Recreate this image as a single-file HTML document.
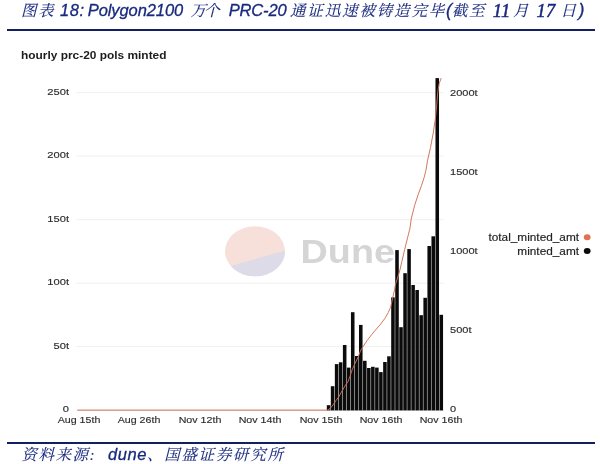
<!DOCTYPE html>
<html lang="zh"><head><meta charset="utf-8"><title>chart</title>
<style>
html,body{margin:0;padding:0;background:#fff;}
#p{position:relative;width:600px;height:464px;overflow:hidden;background:#fff;font-family:"Liberation Sans","Noto Sans CJK SC",sans-serif;}
#p div{position:absolute;white-space:nowrap;line-height:1;}
.t,.s{color:#18297e;font-style:italic;-webkit-text-stroke:0.3px #18297e;}
.t{top:3px;}
.t.l{top:2.3px;}
.t.n{top:1.8px;}
.s{top:446.5px;}
.k{font-family:"Liberation Serif","Noto Serif CJK SC",serif;font-size:15.5px;letter-spacing:1.5px;font-weight:400;-webkit-text-stroke:0.1px #18297e;}
.l{font-size:16.5px;}
.n{font-family:"Liberation Serif",serif;font-size:18.5px;font-weight:400;-webkit-text-stroke:0.5px #18297e;letter-spacing:0.3px;}
.rule{background:#131f63;height:2.3px;left:7px;width:587.8px;}
.ax{font-size:9.6px;color:#2e2e2e;-webkit-text-stroke:0.15px #2e2e2e;}
.yl{width:40px;text-align:right;left:29.2px;transform:scaleX(1.16);transform-origin:100% 50%;}
.yr{left:450px;transform:scaleX(1.15);transform-origin:0 50%;}
.xl{width:60px;text-align:center;top:415px;transform:scaleX(1.11);transform-origin:50% 50%;}
.lg{font-size:10px;color:#222;-webkit-text-stroke:0.15px #222;text-align:right;width:100px;left:479px;transform:scaleX(1.18);transform-origin:100% 50%;}
svg{position:absolute;left:0;top:0;}
</style></head><body><div id="p">
<svg width="600" height="464" viewBox="0 0 600 464">
<line x1="76" x2="443.5" y1="92.7" y2="92.7" stroke="#f0f0f0" stroke-width="1"/>
<line x1="76" x2="443.5" y1="156.1" y2="156.1" stroke="#f0f0f0" stroke-width="1"/>
<line x1="76" x2="443.5" y1="219.7" y2="219.7" stroke="#f0f0f0" stroke-width="1"/>
<line x1="76" x2="443.5" y1="283.2" y2="283.2" stroke="#f0f0f0" stroke-width="1"/>
<line x1="76" x2="443.5" y1="346.6" y2="346.6" stroke="#f0f0f0" stroke-width="1"/>
<line x1="77" x2="443.5" y1="410.4" y2="410.4" stroke="#dddddd" stroke-width="1"/>
<g><clipPath id="wm"><ellipse cx="255" cy="251.3" rx="30" ry="25"/></clipPath><ellipse cx="255" cy="251.3" rx="30" ry="25" fill="#f7e0d9"/><polygon points="220,269 290,249 290,290 220,290" fill="#dddbe7" clip-path="url(#wm)"/></g>
<g transform="translate(300.6,263.1) scale(1.13,1)"><text x="0" y="0" font-family="Liberation Sans, sans-serif" font-size="33.4" font-weight="bold" fill="#d5d5d5">Dune</text></g>
<rect x="326.80" y="405.2" width="3.55" height="5.2" fill="#0b0b0b"/>
<rect x="330.82" y="386.2" width="3.55" height="24.2" fill="#0b0b0b"/>
<rect x="334.85" y="364.1" width="3.55" height="46.3" fill="#0b0b0b"/>
<rect x="338.88" y="362.3" width="3.55" height="48.1" fill="#0b0b0b"/>
<rect x="342.90" y="345.0" width="3.55" height="65.4" fill="#0b0b0b"/>
<rect x="346.93" y="367.6" width="3.55" height="42.8" fill="#0b0b0b"/>
<rect x="350.95" y="312.2" width="3.55" height="98.2" fill="#0b0b0b"/>
<rect x="354.98" y="356.0" width="3.55" height="54.4" fill="#0b0b0b"/>
<rect x="359.00" y="324.9" width="3.55" height="85.5" fill="#0b0b0b"/>
<rect x="363.03" y="360.8" width="3.55" height="49.6" fill="#0b0b0b"/>
<rect x="367.05" y="368.0" width="3.55" height="42.4" fill="#0b0b0b"/>
<rect x="371.08" y="366.8" width="3.55" height="43.6" fill="#0b0b0b"/>
<rect x="375.10" y="367.6" width="3.55" height="42.8" fill="#0b0b0b"/>
<rect x="379.12" y="372.1" width="3.55" height="38.3" fill="#0b0b0b"/>
<rect x="383.15" y="362.0" width="3.55" height="48.4" fill="#0b0b0b"/>
<rect x="387.18" y="356.3" width="3.55" height="54.1" fill="#0b0b0b"/>
<rect x="391.20" y="297.4" width="3.55" height="113.0" fill="#0b0b0b"/>
<rect x="395.23" y="250.1" width="3.55" height="160.3" fill="#0b0b0b"/>
<rect x="399.25" y="327.2" width="3.55" height="83.2" fill="#0b0b0b"/>
<rect x="403.28" y="273.2" width="3.55" height="137.2" fill="#0b0b0b"/>
<rect x="407.30" y="249.1" width="3.55" height="161.3" fill="#0b0b0b"/>
<rect x="411.33" y="285.0" width="3.55" height="125.4" fill="#0b0b0b"/>
<rect x="415.35" y="290.0" width="3.55" height="120.4" fill="#0b0b0b"/>
<rect x="419.38" y="315.2" width="3.55" height="95.2" fill="#0b0b0b"/>
<rect x="423.40" y="297.8" width="3.55" height="112.6" fill="#0b0b0b"/>
<rect x="427.43" y="246.0" width="3.55" height="164.4" fill="#0b0b0b"/>
<rect x="431.45" y="236.3" width="3.55" height="174.1" fill="#0b0b0b"/>
<rect x="435.48" y="78.1" width="3.55" height="332.3" fill="#0b0b0b"/>
<rect x="439.50" y="314.8" width="3.55" height="95.6" fill="#0b0b0b"/>
<polyline points="77.3,410.1 327.5,410.1 330,408.5 333,405 336,400.5 339,396.5 342,391 345,386 348,381.5 350,376.3 352.1,369.9 355.2,363.1 358.2,357 360.4,351 362.7,347.2 367.2,340.4 371.8,334.4 376.3,329.1 380.8,323.9 385.3,317.8 388.3,312.5 390.6,307.3 392.7,298 394.5,290 395.4,284.7 399.4,272.1 401.9,261.4 404.7,249.4 407.5,238 410,228 411.2,219 414.7,205.2 418.1,194.8 421.6,185.3 424.1,177.6 425.9,170.7 427.6,160.2 430.5,147.6 433.4,132 435.4,118.5 436.7,104.9 437.9,91.3 439.2,83.6 441.2,78.1" fill="none" stroke="#cf7154" stroke-width="0.95" stroke-linejoin="round"/>
<ellipse cx="587.2" cy="237.2" rx="3.4" ry="3" fill="#e0724f"/>
<ellipse cx="587.2" cy="251" rx="3.4" ry="3" fill="#0b0b0b"/>
</svg>
<div class="t k" id="t1" style="left:21px">图表</div>
<div class="t l" id="t2" style="left:60px;letter-spacing:0.6px">18:</div>
<div class="t l" id="t3" style="left:87.8px;letter-spacing:-0.1px">Polygon2100</div>
<div class="t k" id="t4" style="left:190.5px;letter-spacing:-2px">万个</div>
<div class="t l" id="t5" style="left:228.7px;letter-spacing:-0.15px">PRC-20</div>
<div class="t k" id="t6" style="left:290px;letter-spacing:1.85px">通证迅速被铸造完毕</div>
<div class="t l" id="t7a" style="left:446px;font-size:18px;top:1px;">(</div>
<div class="t k" id="t7" style="left:452px">截至</div>
<div class="t n" id="t8" style="left:492.8px">11</div>
<div class="t k" id="t9" style="left:513px">月</div>
<div class="t n" id="t10" style="left:536.5px">17</div>
<div class="t k" id="t11" style="left:560.5px">日</div>
<div class="t l" id="t11a" style="left:578.5px;font-size:18px;top:1px;">)</div>
<div class="rule" style="top:29.1px"></div>
<div id="ct" style="left:21.3px;top:49.5px;font-size:11.5px;font-weight:bold;color:#1c1c1c;transform:scaleX(1.035);transform-origin:0 50%;">hourly prc-20 pols minted</div>
<div class="ax yl" style="top:86.6px">250t</div>
<div class="ax yl" style="top:150.1px">200t</div>
<div class="ax yl" style="top:213.6px">150t</div>
<div class="ax yl" style="top:277.1px">100t</div>
<div class="ax yl" style="top:340.6px">50t</div>
<div class="ax yl" style="top:403.8px">0</div>
<div class="ax yr" style="top:87.7px">2000t</div>
<div class="ax yr" style="top:167px">1500t</div>
<div class="ax yr" style="top:246px">1000t</div>
<div class="ax yr" style="top:325px">500t</div>
<div class="ax yr" style="top:403.7px">0</div>
<div class="ax xl" style="left:48.7px">Aug 15th</div>
<div class="ax xl" style="left:109.2px">Aug 26th</div>
<div class="ax xl" style="left:169.5px">Nov 12th</div>
<div class="ax xl" style="left:230px">Nov 14th</div>
<div class="ax xl" style="left:290.5px">Nov 15th</div>
<div class="ax xl" style="left:351px">Nov 16th</div>
<div class="ax xl" style="left:411px">Nov 16th</div>
<div class="lg" style="top:232.5px">total_minted_amt</div>
<div class="lg" style="top:246.5px">minted_amt</div>
<div class="rule" style="top:441.85px"></div>
<div class="s k" id="s1" style="left:21.5px">资料来源:</div>
<div class="s l" id="s2" style="left:108px;letter-spacing:0.55px;top:445.9px">dune</div>
<div class="s k" id="s3" style="left:147px;letter-spacing:1.7px">、国盛证券研究所</div>
</div></body></html>
